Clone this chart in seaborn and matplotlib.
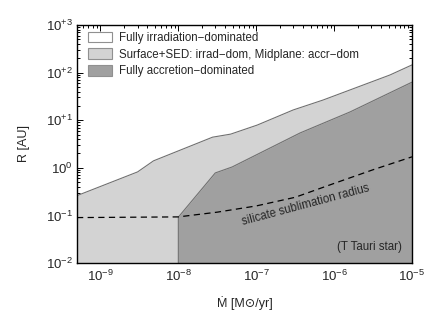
import numpy as np
import pandas as pd
import matplotlib
matplotlib.use("Agg")
import matplotlib.pyplot as plt
import seaborn as sns
from matplotlib.patches import Patch
from matplotlib.ticker import LogLocator, FixedLocator, NullFormatter

# ---- data ----
upper_mdot = [5.0e-10, 3.0e-9, 4.8e-9, 2.75e-8, 4.7e-8, 1.03e-7, 2.98e-7, 7.2e-7, 5.2e-6, 1.0e-5]
upper_r = [0.26, 0.82, 1.40, 4.4, 5.1, 7.9, 16.4, 26.5, 89.0, 145.0]

lower_mdot = [1.0e-8, 1.0e-8, 2.98e-8, 4.9e-8, 1.5e-7, 3.66e-7, 1.6e-6, 1.0e-5]
lower_r = [0.01, 0.092, 0.78, 1.04, 2.6, 5.4, 14.9, 63.0]

dust_mdot = [5.0e-10, 1.0e-8, 3.16e-8, 1.0e-7, 3.16e-7, 1.0e-6, 3.16e-6, 1.0e-5]
dust_r = [0.090, 0.093, 0.117, 0.158, 0.24, 0.47, 0.91, 1.7]

legend_labels = ["Fully irradiation\u2212dominated",
                 "Surface+SED: irrad\u2212dom, Midplane: accr\u2212dom",
                 "Fully accretion\u2212dominated"]
xtick_vals = [1e-9, 1e-8, 1e-7, 1e-6, 1e-5]
xtick_labels = [r"10$^{-9}$", r"10$^{-8}$", r"10$^{-7}$", r"10$^{-6}$", r"10$^{-5}$"]
ytick_vals = [1e-2, 1e-1, 1e0, 1e1, 1e2, 1e3]
ytick_labels = [r"10$^{-2}$", r"10$^{-1}$", r"10$^{0}$", r"10$^{+1}$", r"10$^{+2}$", r"10$^{+3}$"]

# ---- style ----
sns.set_style("ticks")
plt.rcParams['font.family'] = ['Liberation Sans', 'DejaVu Sans']
plt.rcParams['mathtext.fontset'] = 'custom'
plt.rcParams['mathtext.rm'] = 'Liberation Sans'
plt.rcParams['mathtext.it'] = 'Liberation Sans:italic'
plt.rcParams['mathtext.bf'] = 'Liberation Sans:bold'

c_white = "#ffffff"
c_light = "#d3d3d3"
c_dark = "#a0a0a0"
c_edge = "#707070"
FS = 8.3
TFS = 9.5

fig = plt.figure(figsize=(4.36, 3.12), dpi=100)
ax = fig.add_axes([77/436, 1-263/312, 335/436, 238/312])

xmin, xmax = 5e-10, 1e-5
ymin, ymax = 1e-2, 1e3

# fills
ax.fill_between(upper_mdot, ymin, upper_r, color=c_light, lw=0, zorder=1)
ax.fill_between(lower_mdot[1:], ymin, lower_r[1:], color=c_dark, lw=0, zorder=2)

# boundary lines
sns.lineplot(x=upper_mdot, y=upper_r, sort=False, estimator=None, color=c_edge, lw=0.8, ax=ax, zorder=3)
sns.lineplot(x=lower_mdot, y=lower_r, sort=False, estimator=None, color=c_edge, lw=0.8, ax=ax, zorder=3)
sns.lineplot(x=dust_mdot, y=dust_r, sort=False, estimator=None, color="black", lw=0.9,
             linestyle=(0, (5, 3.5)), ax=ax, zorder=4)

ax.set_xscale("log")
ax.set_yscale("log")
ax.set_xlim(xmin, xmax)
ax.set_ylim(ymin, ymax)

ax.xaxis.set_major_locator(FixedLocator(xtick_vals))
ax.set_xticklabels(xtick_labels)
ax.yaxis.set_major_locator(FixedLocator(ytick_vals))
ax.set_yticklabels(ytick_labels)
ax.xaxis.set_minor_locator(LogLocator(base=10, subs=np.arange(2, 10), numticks=20))
ax.yaxis.set_minor_locator(LogLocator(base=10, subs=np.arange(2, 10), numticks=20))
ax.xaxis.set_minor_formatter(NullFormatter())
ax.yaxis.set_minor_formatter(NullFormatter())

ax.tick_params(which="both", direction="in", top=True, right=True, width=0.7, color="black")
ax.tick_params(which="major", length=4.0, labelsize=TFS)
ax.tick_params(which="minor", length=2.0)
ax.tick_params(axis="x", which="major", pad=4)
ax.tick_params(axis="y", which="major", pad=3)
for s in ax.spines.values():
    s.set_linewidth(1.0)
    s.set_color("black")
    s.set_zorder(6)

ax.set_xlabel("\u1e40 [M\u2299/yr]", fontsize=FS + 0.7)
ax.set_ylabel("R [AU]", fontsize=FS + 0.7)
ax.xaxis.set_label_coords(0.5, -(296-263)/238)
ax.yaxis.set_label_coords(-(77-30)/335, 0.5)

ax.text(10**-6.36, 10**-0.78, "silicate sublimation radius", rotation=15,
        ha="center", va="center", fontsize=FS, zorder=5)
ax.text(10**-5.128, 10**-1.664, "(T Tauri star)", ha="right", va="center", fontsize=FS, zorder=5)

handles = [Patch(facecolor=c, edgecolor="#909090", lw=0.8) for c in (c_white, c_light, c_dark)]
leg = ax.legend(handles, legend_labels, loc="upper left", bbox_to_anchor=(0.033, 0.972),
                frameon=False, fontsize=FS, borderpad=0, borderaxespad=0,
                handlelength=2.1, handleheight=1.05, handletextpad=0.55, labelspacing=0.38)
leg.set_zorder(7)

fig.savefig("out.png", dpi=100)
